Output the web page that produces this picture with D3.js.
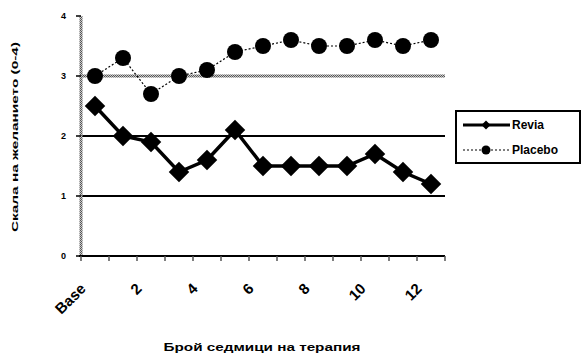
<!DOCTYPE html>
<html><head><meta charset="utf-8">
<script src="https://cdn.jsdelivr.net/npm/d3@7"></script>
<style>body{margin:0;background:#fff}svg{display:block;font-family:"Liberation Sans",Arial,sans-serif}</style>
</head><body><svg id="c" width="582" height="358"></svg>
<script>
const categories = ["Base","1","2","3","4","5","6","7","8","9","10","11","12"];
const tickLabels = ["Base","2","4","6","8","10","12"];
const revia = [2.5,2.0,1.9,1.4,1.6,2.1,1.5,1.5,1.5,1.5,1.7,1.4,1.2];
const placebo = [3.0,3.3,2.7,3.0,3.1,3.4,3.5,3.6,3.5,3.5,3.6,3.5,3.6];
const yTicks = [0,1,2,3,4];
const seriesNames = ["Revia","Placebo"];

const svg = d3.select("#c");
const x = d3.scaleBand().domain(categories).range([81,445]);
const y = d3.scaleLinear().domain([0,4]).range([256,16]);
const cx = d => x(d) + x.bandwidth()/2;

const defs = svg.append("defs");
const pat = defs.append("pattern").attr("id","hatch").attr("width",2).attr("height",2).attr("patternUnits","userSpaceOnUse");
pat.append("rect").attr("width",2).attr("height",2).attr("fill","#c8c8c8");
pat.append("rect").attr("width",1).attr("height",1).attr("fill","#555");
pat.append("rect").attr("x",1).attr("y",1).attr("width",1).attr("height",1).attr("fill","#555");

// gridlines
[1,2].forEach(v=>{
  svg.append("line").attr("x1",81).attr("x2",445).attr("y1",y(v)).attr("y2",y(v)).attr("stroke","#000").attr("stroke-width",2);
});
svg.append("rect").attr("x",81).attr("width",364).attr("y",y(3)-1.5).attr("height",3).attr("fill","url(#hatch)");

// y axis
svg.append("rect").attr("x",79.5).attr("width",3).attr("y",y(4)).attr("height",y(0)-y(4)).attr("fill","url(#hatch)");
const ya = svg.append("g");
yTicks.forEach(v=>{
  ya.append("line").attr("x1",76).attr("x2",81).attr("y1",y(v)).attr("y2",y(v)).attr("stroke","#000").attr("stroke-width",1.5);
  ya.append("text").attr("x",66).attr("y",y(v)).attr("dy","0.35em").attr("text-anchor","end")
    .attr("font-size",9).attr("font-weight","bold").text(v);
});

// x axis
svg.append("line").attr("x1",79).attr("x2",445).attr("y1",y(0)).attr("y2",y(0)).attr("stroke","#000").attr("stroke-width",2);
const tickPos = categories.map(c=>x(c)).concat([x.range()[1]]);
tickPos.forEach(p=>{
  svg.append("line").attr("x1",p).attr("x2",p).attr("y1",y(0)).attr("y2",y(0)+5).attr("stroke","#555").attr("stroke-width",1.5);
});
tickLabels.forEach(t=>{
  const px = cx(t)-12, py = y(0)+30;
  svg.append("text").attr("transform",`translate(${px},${py}) rotate(-45)`)
    .attr("text-anchor","end").attr("dy","0.35em").attr("font-size",15).attr("font-weight","bold").text(t);
});

// lines
const line = d3.line().x((d,i)=>cx(categories[i])).y(d=>y(d));
svg.append("path").attr("d",line(placebo)).attr("fill","none").attr("stroke","#000").attr("stroke-width",1.2).attr("stroke-dasharray","2,2");
svg.append("path").attr("d",line(revia)).attr("fill","none").attr("stroke","#000").attr("stroke-width",3.5);

svg.append("g").selectAll("circle").data(placebo).join("circle")
  .attr("cx",(d,i)=>cx(categories[i])).attr("cy",d=>y(d)).attr("r",8).attr("fill","#000");
svg.append("g").selectAll("path").data(revia).join("path")
  .attr("transform",(d,i)=>`translate(${cx(categories[i])},${y(d)}) rotate(45)`)
  .attr("d",d3.symbol().type(d3.symbolSquare).size(210)).attr("fill","#000");

// axis titles
svg.append("text").attr("transform","translate(18,137) rotate(-90)").attr("text-anchor","middle")
  .attr("font-size",9).attr("font-weight","bold").attr("textLength",190).attr("lengthAdjust","spacingAndGlyphs")
  .text("Скала на желанието (0-4)");
svg.append("text").attr("x",262).attr("y",351).attr("text-anchor","middle")
  .attr("font-size",11).attr("font-weight","bold").attr("textLength",197).attr("lengthAdjust","spacingAndGlyphs")
  .text("Брой седмици на терапия");

// legend
const lg = svg.append("g");
lg.append("rect").attr("x",456).attr("y",111).attr("width",124).attr("height",52).attr("fill","#fff").attr("stroke","#000").attr("stroke-width",2);
const ly = [125,150];
seriesNames.forEach((n,i)=>{
  const yy = ly[i];
  lg.append("line").attr("x1",463).attr("x2",510).attr("y1",yy).attr("y2",yy).attr("stroke","#000")
    .attr("stroke-width", i===0?3:1.2).attr("stroke-dasharray", i===0?null:"2,2");
  if(i===0) lg.append("path").attr("transform",`translate(486,${yy}) rotate(45)`).attr("d",d3.symbol().type(d3.symbolSquare).size(40)).attr("fill","#000");
  else lg.append("circle").attr("cx",486).attr("cy",yy).attr("r",4.5).attr("fill","#000");
  lg.append("text").attr("x",512).attr("y",yy).attr("dy","0.35em").attr("font-size",12).attr("font-weight","bold").text(n);
});
</script></body></html>
